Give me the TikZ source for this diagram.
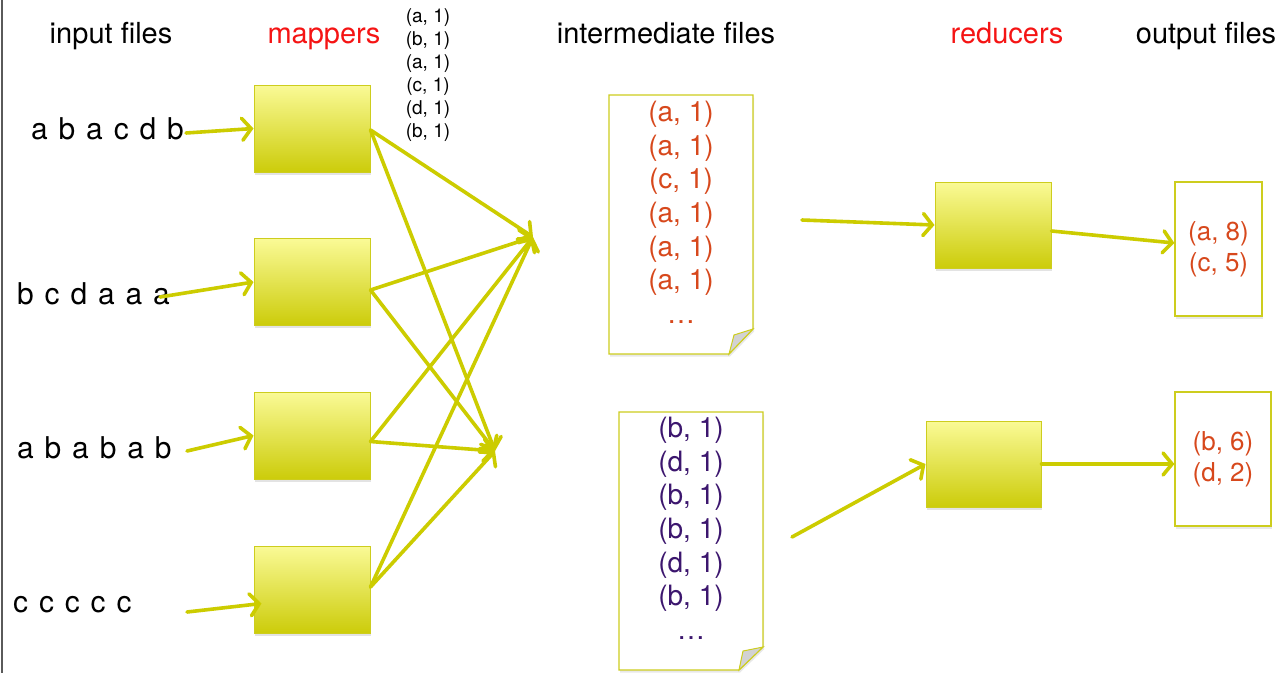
\documentclass[tikz,border=0pt]{standalone}
\usepackage{fontspec}
\setmainfont{TeX Gyre Heros}
\newfontfamily\widefont[WordSpace=1.3]{TeX Gyre Heros}
\usetikzlibrary{arrows.meta,shadows,calc}
\definecolor{yel}{RGB}{204,204,0}
\definecolor{boxtop}{RGB}{250,250,150}
\definecolor{boxbot}{RGB}{204,204,10}
\definecolor{boxedge}{RGB}{205,205,30}
\definecolor{hdred}{RGB}{245,20,20}
\definecolor{orng}{RGB}{215,72,28}
\definecolor{purp}{RGB}{60,22,110}
\definecolor{framegray}{RGB}{90,90,90}
\definecolor{foldgray}{RGB}{210,210,210}
\begin{document}
\begin{tikzpicture}[x=1pt,y=-1pt,
  conn/.style={draw=yel,line width=3.6pt,line cap=round,-{Straight Barb[length=9pt,width=22pt,line cap=round]}},
  procbox/.style={draw=boxedge,line width=1pt,top color=boxtop,bottom color=boxbot,inner sep=0pt,
    drop shadow={shadow xshift=1pt,shadow yshift=-2.5pt,opacity=0.22}},
  mapbox/.style={procbox,minimum width=116pt,minimum height=87pt},
  header/.style={font=\fontsize{29}{34}\selectfont,inner sep=0pt,anchor=base},
  intext/.style={font=\widefont\fontsize{30}{34}\selectfont,inner sep=0pt,anchor=base west},
  pairs/.style={font=\fontsize{19}{23}\selectfont,align=center,inner sep=0pt,anchor=north},
  doctext/.style={font=\fontsize{28}{33.6}\selectfont,align=center,inner sep=0pt,anchor=north},
  docshape/.style={draw=boxedge,line width=1.2pt,fill=white,
    drop shadow={shadow xshift=1pt,shadow yshift=-2.5pt,opacity=0.18}},
  fold/.style={draw=boxedge,line width=1pt,fill=foldgray},
  outbox/.style={draw=boxedge,line width=1.2pt,fill=white,align=center,text=orng,
    font=\fontsize{26}{31}\selectfont,inner sep=0pt,
    drop shadow={shadow xshift=1pt,shadow yshift=-2.5pt,opacity=0.18}},
]
\useasboundingbox (0,0) rectangle (1288,673);
\fill[white] (0,0) rectangle (1288,673);
\draw[framegray,line width=1.5pt] (2,0) -- (2,673);

% headers
\node[header] (h1) at (111,43) {input files};
\node[header,text=hdred] (h2) at (324,43) {mappers};
\node[header] (h3) at (666,43) {intermediate files};
\node[header,text=hdred] (h4) at (1007,43) {reducers};
\node[header] (h5) at (1206,43) {output files};

% mapper output pairs
\node[pairs] (pr) at (428,8.2) {(a, 1)\\(b, 1)\\(a, 1)\\(c, 1)\\(d, 1)\\(b, 1)};

% inputs
\node[intext] (i1) at (31,139) {a b a c d b};
\node[intext] (i2) at (17,304) {b c d a a a};
\node[intext] (i3) at (17,458) {a b a b a b};
\node[intext] (i4) at (13,612) {c c c c c};

% mappers
\node[mapbox] (m1) at (312,128.5) {};
\node[mapbox] (m2) at (312,282) {};
\node[mapbox] (m3) at (312,435.5) {};
\node[mapbox] (m4) at (312,589.5) {};

% intermediate files
\path[docshape] (609,95) -- (753,95) -- (753,329) -- (729,354) -- (609,354) -- cycle;
\path[fold] (729,354) -- (734,335) -- (753,329) -- cycle;
\node[doctext,text=orng] (d1) at (681,101.1) {(a, 1)\\(a, 1)\\(c, 1)\\(a, 1)\\(a, 1)\\(a, 1)\\…};
\path[docshape] (619,412) -- (763,412) -- (763,647) -- (739,670) -- (619,670) -- cycle;
\path[fold] (739,670) -- (743,651) -- (763,647) -- cycle;
\node[doctext,text=purp] (d2) at (691,417.1) {(b, 1)\\(d, 1)\\(b, 1)\\(b, 1)\\(d, 1)\\(b, 1)\\…};

% reducers
\node[procbox,minimum width=116pt,minimum height=86pt] (r1) at (993,225) {};
\node[procbox,minimum width=115pt,minimum height=86pt] (r2) at (983.5,464) {};

% outputs
\node[outbox,minimum width=87pt,minimum height=134pt] (o1) at (1218.5,249) {(a, 8)\\(c, 5)};
\node[outbox,minimum width=96pt,minimum height=134pt] (o2) at (1223,459) {(b, 6)\\(d, 2)};

% input arrows
\coordinate (s1) at (186,133);
\coordinate (s2) at (160,297);
\coordinate (s3) at (187,451);
\coordinate (s4) at (187,612);
\draw[conn] (s1) -- (m1.west);
\draw[conn] (s2) -- (m2.west);
\draw[conn] (s3) -- (m3.west);
\draw[conn] (s4) -- ($(m4.west)+(8,14)$);

% shuffle arrows
\coordinate (cu) at (533,237);
\coordinate (cl) at (495,451);
\draw[conn] ($(m1.east)+(0,1.5)$) -- (cu);
\draw[conn] ($(m1.east)+(0,1.5)$) -- (cl);
\draw[conn] ($(m2.east)+(0,8)$) -- (cu);
\draw[conn] ($(m2.east)+(0,8)$) -- (cl);
\draw[conn] ($(m3.east)+(0,6)$) -- (cu);
\draw[conn] ($(m3.east)+(0,6)$) -- (cl);
\draw[conn] ($(m4.east)+(0,-2.5)$) -- (cu);
\draw[conn] ($(m4.east)+(0,-2.5)$) -- (cl);

% reducer arrows
\coordinate (t1) at (802,220);
\coordinate (t2) at (792,537);
\draw[conn] (t1) -- (r1.west);
\draw[conn] ($(r1.east)+(0,6)$) -- ($(o1.west)+(0,-6)$);
\draw[conn] (t2) -- (r2.west);
\draw[conn] (r2.east) -- ($(o2.west)+(0,5)$);
\end{tikzpicture}
\end{document}
